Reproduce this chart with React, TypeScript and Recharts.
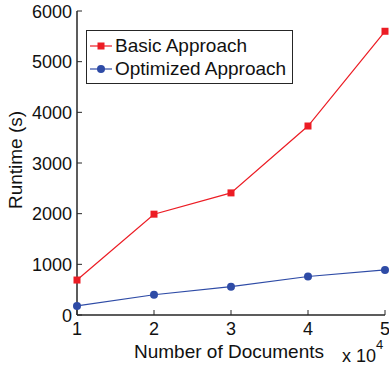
import { LineChart, Line, XAxis, YAxis } from 'recharts'

const docs = [1, 2, 3, 4, 5]
const basicRuntime = [690, 1990, 2410, 3730, 5600]
const optimizedRuntime = [180, 400, 560, 760, 890]
const xTicks = [1, 2, 3, 4, 5]
const yTicks = [0, 1000, 2000, 3000, 4000, 5000, 6000]

const RED = '#EC1C24'
const BLUE = '#2E4BA6'
const AXIS = '#262626'
const FONT = 'Liberation Sans, Arial, Helvetica, sans-serif'

const data = docs.map((d, i) => ({ docs: d, basic: basicRuntime[i], optimized: optimizedRuntime[i] }))

function BottomTick(props: any) {
  const { x, y, payload } = props
  return (
    <g>
      <line x1={x} y1={y} x2={x} y2={y - 5} stroke={AXIS} />
      <text x={x} y={y + 20} textAnchor="middle" fontSize={18} fill="#111" fontFamily={FONT}>
        {payload.value}
      </text>
    </g>
  )
}

function LeftTick(props: any) {
  const { x, y, payload } = props
  return (
    <g>
      <line x1={x} y1={y} x2={x + 5} y2={y} stroke={AXIS} />
      <text x={x - 5} y={y + 6.5} textAnchor="end" fontSize={18} fill="#111" fontFamily={FONT}>
        {payload.value}
      </text>
    </g>
  )
}

function TopTick(props: any) {
  const { x, y } = props
  return <line x1={x} y1={y} x2={x} y2={y + 5} stroke={AXIS} />
}

function RightTick(props: any) {
  const { x, y } = props
  return <line x1={x} y1={y} x2={x - 5} y2={y} stroke={AXIS} />
}

function SquareDot(props: any) {
  const { cx, cy } = props
  if (cx == null || cy == null) return null
  return <rect x={cx - 3.5} y={cy - 3.5} width={7} height={7} fill={RED} />
}

function LegendBox() {
  const rows = [
    { name: 'Basic Approach', color: RED, square: true },
    { name: 'Optimized Approach', color: BLUE, square: false },
  ]
  return (
    <div
      style={{
        position: 'absolute',
        left: 86,
        top: 30,
        width: 207,
        height: 54,
        border: `1.5px solid ${AXIS}`,
        background: '#fff',
        boxSizing: 'border-box',
        fontFamily: FONT,
        fontSize: 19,
        lineHeight: '23px',
        color: '#111',
        padding: '3px 0 0 3px',
      }}
    >
      {rows.map((r) => (
        <div key={r.name} style={{ display: 'flex', alignItems: 'center', height: 23 }}>
          <svg width={22} height={12} style={{ marginRight: 3 }}>
            <line x1={0} y1={6} x2={22} y2={6} stroke={r.color} strokeWidth={1.2} />
            {r.square ? (
              <rect x={7.5} y={2.5} width={7} height={7} fill={r.color} />
            ) : (
              <circle cx={11} cy={6} r={4} fill={r.color} />
            )}
          </svg>
          <span>{r.name}</span>
        </div>
      ))}
    </div>
  )
}

export default function App() {
  return (
    <div style={{ position: 'relative', width: 389, height: 366, background: '#fff' }}>
      <style>{'body{margin:0}'}</style>
      <LineChart
        width={389}
        height={366}
        data={data}
        margin={{ top: 11, right: 4, bottom: 0, left: 0 }}
      >
        <XAxis
          dataKey="docs"
          type="number"
          domain={[1, 5]}
          ticks={xTicks}
          height={51}
          axisLine={{ stroke: AXIS, strokeWidth: 1.5 }}
          tickLine={false}
          tickSize={0}
          tickMargin={0}
          tick={<BottomTick />}
          interval={0}
        />
        <XAxis
          xAxisId="top"
          orientation="top"
          type="number"
          domain={[1, 5]}
          ticks={xTicks}
          height={0}
          axisLine={{ stroke: AXIS, strokeWidth: 1.5 }}
          tickLine={false}
          tickSize={0}
          tickMargin={0}
          tick={<TopTick />}
          interval={0}
        />
        <YAxis
          type="number"
          domain={[0, 6000]}
          ticks={yTicks}
          width={77}
          axisLine={{ stroke: AXIS, strokeWidth: 1.5 }}
          tickLine={false}
          tickSize={0}
          tickMargin={0}
          tick={<LeftTick />}
          interval={0}
        />
        <YAxis
          yAxisId="right"
          orientation="right"
          type="number"
          domain={[0, 6000]}
          ticks={yTicks}
          width={0}
          axisLine={{ stroke: AXIS, strokeWidth: 1.5 }}
          tickLine={false}
          tickSize={0}
          tickMargin={0}
          tick={<RightTick />}
          interval={0}
        />
        <Line
          dataKey="basic"
          stroke={RED}
          strokeWidth={1.2}
          dot={<SquareDot />}
          activeDot={false}
          isAnimationActive={false}
        />
        <Line
          dataKey="optimized"
          stroke={BLUE}
          strokeWidth={1.2}
          dot={{ r: 4, fill: BLUE, stroke: BLUE, strokeWidth: 0 }}
          activeDot={false}
          isAnimationActive={false}
        />
        <text
          x={22}
          y={160}
          transform="rotate(-90, 22, 160)"
          textAnchor="middle"
          fontSize={19}
          fill="#111"
          fontFamily={FONT}
        >
          Runtime (s)
        </text>
        <text x={229} y={358} textAnchor="middle" fontSize={19} fill="#111" fontFamily={FONT}>
          Number of Documents
        </text>
        <text x={342} y={362} fontSize={18} fill="#111" fontFamily={FONT}>
          x 10
          <tspan dy={-13} fontSize={13}>
            4
          </tspan>
        </text>
      </LineChart>
      <LegendBox />
    </div>
  )
}
